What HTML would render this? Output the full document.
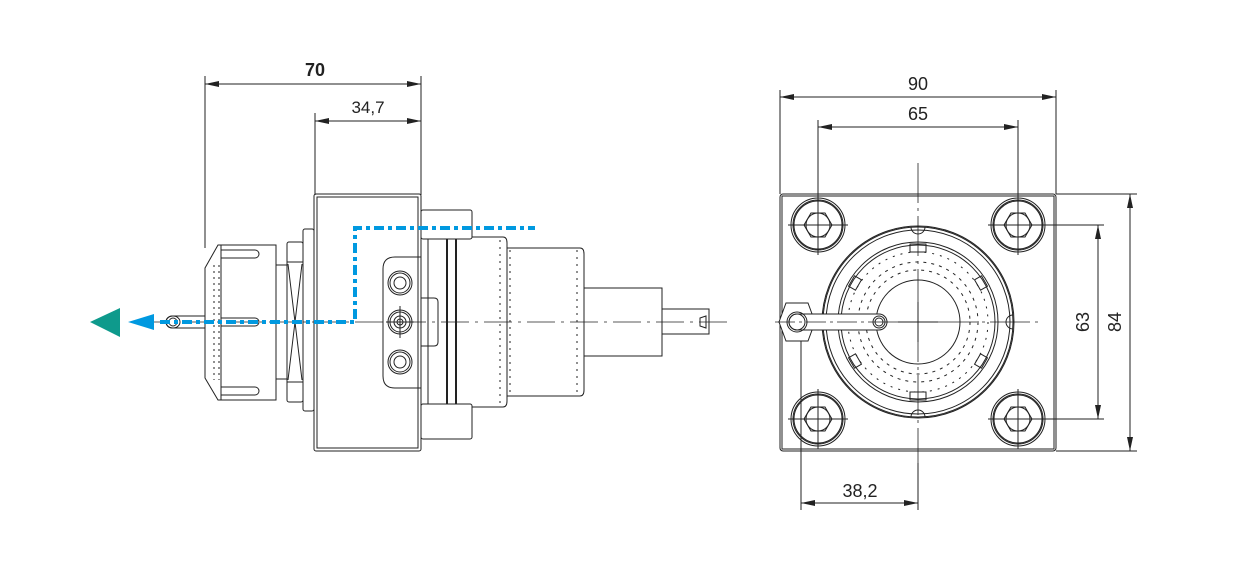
<!DOCTYPE html>
<html><head><meta charset="utf-8"><style>
html,body{margin:0;padding:0;background:#fff;width:1248px;height:575px;overflow:hidden}
svg{display:block}
text{font-family:"Liberation Sans",sans-serif;fill:#222}
</style></head><body>
<svg width="1248" height="575" viewBox="0 0 1248 575" xmlns="http://www.w3.org/2000/svg">
<defs>
<marker id="a" viewBox="0 0 14 6" refX="14" refY="3" markerWidth="14" markerHeight="6" orient="auto-start-reverse" markerUnits="userSpaceOnUse"><path d="M0,0 L14,3 L0,6 Z" fill="#222"/></marker>
</defs>
<g stroke="#222" stroke-width="1" fill="none">
<!-- LEFT VIEW dims -->
<line x1="205" y1="76" x2="205" y2="248"/>
<line x1="421" y1="76" x2="421" y2="195"/>
<line x1="205" y1="84" x2="421" y2="84" marker-start="url(#a)" marker-end="url(#a)"/>
<line x1="315" y1="113" x2="315" y2="195"/>
<line x1="315" y1="121" x2="421" y2="121" marker-start="url(#a)" marker-end="url(#a)"/>
<!-- centerline -->
<line x1="140" y1="322" x2="730" y2="322" stroke-dasharray="28,6,3,6" stroke-width="0.8"/>
<!-- main body -->
<rect x="314" y="194" width="107" height="257" rx="2"/>
<rect x="317" y="197" width="101" height="251"/>
<!-- flange strip -->
<rect x="303" y="229" width="11" height="182" rx="2"/>
<!-- nut -->
<rect x="287" y="242" width="16" height="160" rx="2"/>
<rect x="287" y="262" width="16" height="120"/>
<path d="M288,264 L302,380 M302,264 L288,380"/>
<!-- neck -->
<rect x="276" y="265" width="11" height="114"/>
<!-- collet -->
<path d="M218,245 L276,245 L276,400 L218,400 L205,378 L205,268 Z"/>
<line x1="221" y1="245" x2="221" y2="400"/>
<path d="M221,250 L255,250 A4,4 0 0 1 255,258 L221,258 M221,318 L255,318 A4,4 0 0 1 255,326 L221,326 M221,387 L255,387 A4,4 0 0 1 255,395 L221,395"/>
<line x1="214" y1="265" x2="214" y2="380" stroke-dasharray="2,4"/>
<line x1="219" y1="265" x2="219" y2="380" stroke-dasharray="2,4"/>
<!-- pin -->
<path d="M205,316 L172,316 A6,6 0 0 0 172,328 L205,328"/>
<ellipse cx="173" cy="322" rx="7" ry="6"/>
<ellipse cx="173" cy="322" rx="4" ry="4"/>
<!-- screw bracket -->
<path d="M421,257 L395,257 Q383,257 383,269 L383,376 Q383,388 395,388 L421,388"/>
<path d="M421,298 L434,298 Q438,298 438,302 L438,342 Q438,346 434,346 L421,346"/>
<g>
<circle cx="400" cy="283" r="12"/><circle cx="400" cy="283" r="10"/><circle cx="400" cy="283" r="6"/>
<circle cx="400" cy="322" r="12"/><circle cx="400" cy="322" r="10"/><circle cx="400" cy="322" r="6"/><circle cx="400" cy="322" r="3"/>
<line x1="400" y1="306" x2="400" y2="338"/><line x1="386" y1="322" x2="414" y2="322"/>
<circle cx="400" cy="362" r="12"/><circle cx="400" cy="362" r="10"/><circle cx="400" cy="362" r="6"/>
</g>
<!-- right flange bars -->
<rect x="421" y="210" width="51" height="29" rx="2"/>
<rect x="421" y="404" width="51" height="35" rx="2"/>
<line x1="428" y1="239" x2="428" y2="404"/>
<line x1="447" y1="239" x2="447" y2="404" stroke-width="2"/>
<line x1="456" y1="239" x2="456" y2="404" stroke-width="2"/>
<!-- cylinders -->
<path d="M472,237 L503,237 Q507,237 507,243 L507,401 Q507,407 503,407 L472,407"/>
<path d="M507,248 L580,248 Q584,248 584,254 L584,390 Q584,396 580,396 L507,396"/>
<line x1="500" y1="240" x2="500" y2="404" stroke-dasharray="2,5"/>
<line x1="510" y1="250" x2="510" y2="394" stroke-dasharray="2,5"/>
<line x1="577" y1="250" x2="577" y2="394" stroke-dasharray="2,5"/>
<rect x="584" y="288" width="78" height="68"/>
<path d="M662,309 L709,309 L709,334 L662,334"/>
<path d="M700,318 L706,316 L706,328 L700,326 Z"/>
<!-- RIGHT VIEW dims -->
<line x1="780" y1="90" x2="780" y2="194"/>
<line x1="1056" y1="90" x2="1056" y2="194"/>
<line x1="780" y1="97" x2="1056" y2="97" marker-start="url(#a)" marker-end="url(#a)"/>
<line x1="818" y1="120" x2="818" y2="250"/>
<line x1="1018" y1="120" x2="1018" y2="250"/>
<line x1="818" y1="127" x2="1018" y2="127" marker-start="url(#a)" marker-end="url(#a)"/>
<line x1="1040" y1="225" x2="1104" y2="225"/>
<line x1="1040" y1="419" x2="1104" y2="419"/>
<line x1="1098" y1="225" x2="1098" y2="419" marker-start="url(#a)" marker-end="url(#a)"/>
<line x1="1056" y1="194" x2="1137" y2="194"/>
<line x1="1056" y1="451" x2="1137" y2="451"/>
<line x1="1130" y1="194" x2="1130" y2="451" marker-start="url(#a)" marker-end="url(#a)"/>
<line x1="801" y1="330" x2="801" y2="510"/>
<line x1="918" y1="463" x2="918" y2="510"/>
<line x1="801" y1="503" x2="918" y2="503" marker-start="url(#a)" marker-end="url(#a)"/>
<!-- plate -->
<rect x="780" y="194" width="276" height="257" rx="3"/>
<rect x="782" y="196" width="272" height="253"/>
<!-- center lines -->
<line x1="918" y1="163" x2="918" y2="478" stroke-dasharray="40,5,3,5" stroke-width="0.8"/>
<line x1="778" y1="322" x2="1040" y2="322" stroke-dasharray="40,5,3,5" stroke-width="0.8"/>
<!-- bolts -->
<g id="b">
<circle cx="818" cy="225" r="27"/><circle cx="818" cy="225" r="25"/><circle cx="818" cy="225" r="24"/>
<polygon points="832,225 825,237 811,237 804,225 811,213 825,213"/>
<circle cx="818" cy="225" r="12"/>
<line x1="788" y1="225" x2="848" y2="225"/><line x1="818" y1="195" x2="818" y2="255"/>
</g>
<use href="#b" x="200" y="0"/>
<use href="#b" x="0" y="194"/>
<use href="#b" x="200" y="194"/>
<!-- big circles -->
<circle cx="918" cy="322" r="96"/><circle cx="918" cy="322" r="95"/><circle cx="918" cy="322" r="92"/>
<circle cx="918" cy="322" r="80"/><circle cx="918" cy="322" r="77"/>
<circle cx="918" cy="322" r="60" stroke-dasharray="3,5"/>
<circle cx="918" cy="322" r="52" stroke-dasharray="3,5"/>
<circle cx="918" cy="322" r="70" stroke-dasharray="2,6"/>
<circle cx="918" cy="322" r="42"/>
<path d="M911,227 A7,7 0 0 0 925,227 M911,417 A7,7 0 0 1 925,417 M1013,315 A7,7 0 0 0 1013,329"/>
<rect x="910" y="244" width="16" height="8"/><rect x="910" y="392" width="16" height="8"/>
<rect x="849" y="279" width="12" height="8" transform="rotate(-60 855 283)"/>
<rect x="975" y="279" width="12" height="8" transform="rotate(60 981 283)"/>
<rect x="849" y="357" width="12" height="8" transform="rotate(60 855 361)"/>
<rect x="975" y="357" width="12" height="8" transform="rotate(-60 981 361)"/>
<line x1="898" y1="322" x2="938" y2="322"/><line x1="918" y1="302" x2="918" y2="342"/>
<!-- hex + slot -->
<polygon points="797,303 808,303 815,322 808,341 786,341 779,322 786,303" fill="#fff"/>
<path d="M797,314 L879,314 A8,8 0 0 1 879,330 L797,330 A8,8 0 0 1 797,314 Z" fill="#fff"/>
<circle cx="797" cy="322" r="10"/><circle cx="797" cy="322" r="8"/>
<circle cx="879" cy="322" r="6"/><circle cx="879" cy="322" r="4"/>
<line x1="775" y1="322" x2="890" y2="322" stroke-dasharray="20,4,3,4" stroke-width="0.8"/>
</g>
<!-- blue path -->
<path d="M160,322 L355,322 L355,228 L535,228" fill="none" stroke="#0099e0" stroke-width="4" stroke-dasharray="10,4,4,4"/>
<polygon points="128,322 154,314 154,330" fill="#0099e0"/>
<polygon points="90,322 120,308 120,337" fill="#0e9a8c"/>
<!-- text -->
<text x="315" y="76" font-size="18" font-weight="bold" text-anchor="middle">70</text>
<text x="368" y="113" font-size="17" text-anchor="middle">34,7</text>
<text x="918" y="90" font-size="18" text-anchor="middle">90</text>
<text x="918" y="120" font-size="18" text-anchor="middle">65</text>
<text x="860" y="497" font-size="18" text-anchor="middle">38,2</text>
<text transform="translate(1089,322) rotate(-90)" font-size="18" text-anchor="middle">63</text>
<text transform="translate(1121,322) rotate(-90)" font-size="18" text-anchor="middle">84</text>
</svg>
</body></html>
